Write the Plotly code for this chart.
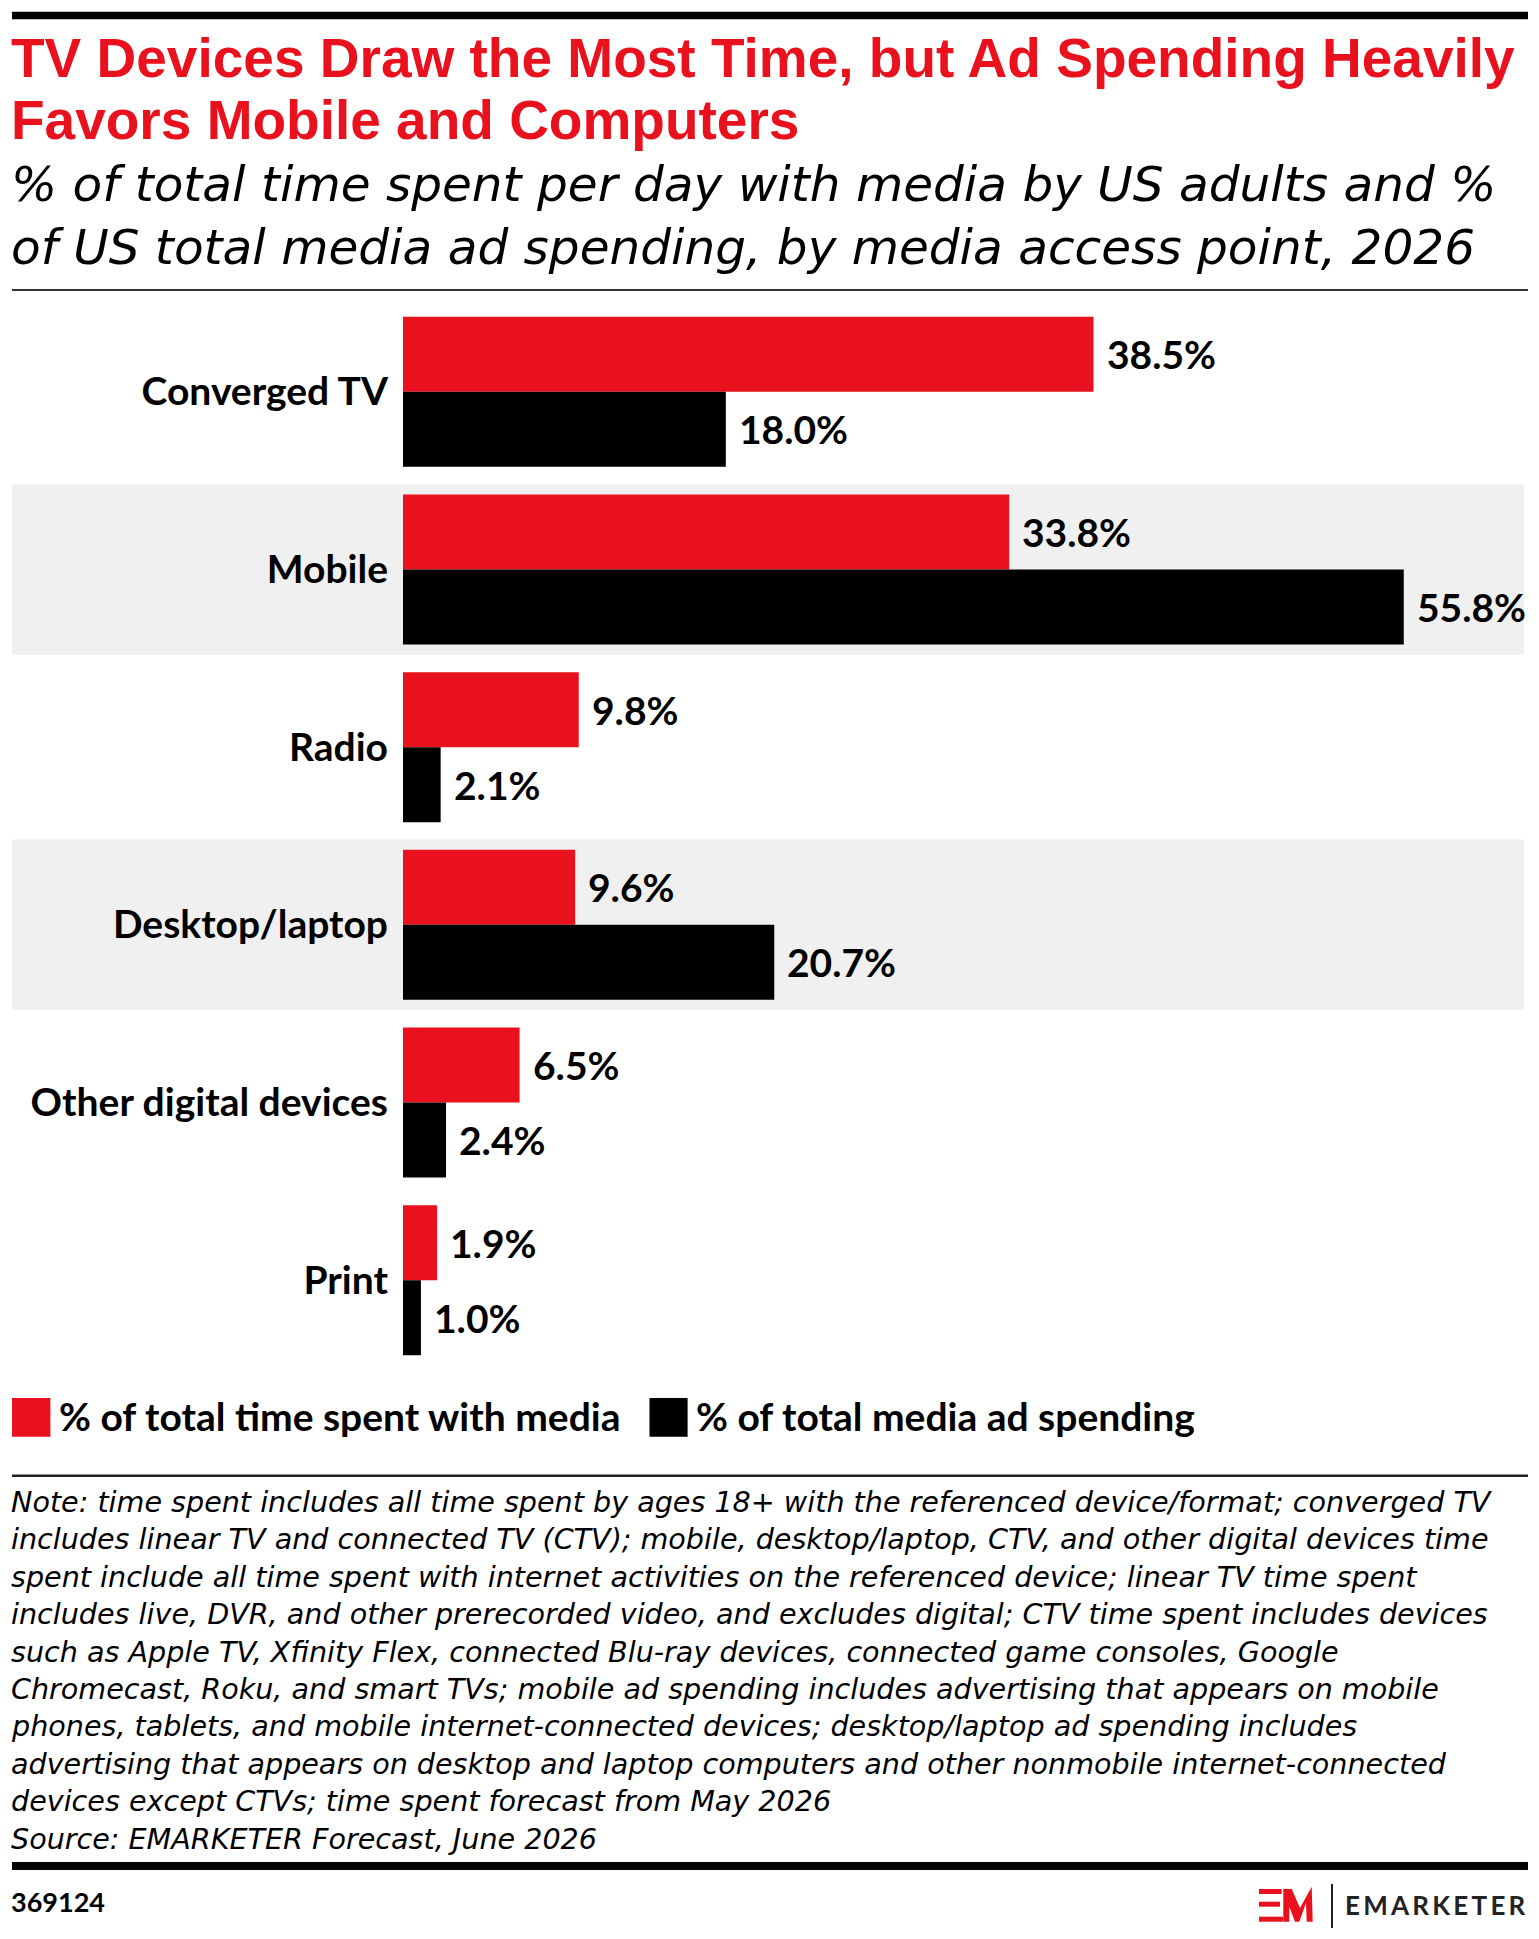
import plotly.graph_objects as go

# ---------------- data ----------------
categories = ["Converged TV", "Mobile", "Radio", "Desktop/laptop",
              "Other digital devices", "Print"]
time_spent = [38.5, 33.8, 9.8, 9.6, 6.5, 1.9]
ad_spending = [18.0, 55.8, 2.1, 20.7, 2.4, 1.0]
series_names = ["% of total time spent with media", "% of total media ad spending"]
shaded_categories = ["Mobile", "Desktop/laptop"]

title_lines = ["TV Devices Draw the Most Time, but Ad Spending Heavily",
               "Favors Mobile and Computers"]
subtitle_lines = ["% of total time spent per day with media by US adults and %",
                  "of US total media ad spending, by media access point, 2026"]
note_lines = [
    "Note: time spent includes all time spent by ages 18+ with the referenced device/format; converged TV",
    "includes linear TV and connected TV (CTV); mobile, desktop/laptop, CTV, and other digital devices time",
    "spent include all time spent with internet activities on the referenced device; linear TV time spent",
    "includes live, DVR, and other prerecorded video, and excludes digital; CTV time spent includes devices",
    "such as Apple TV, Xfinity Flex, connected Blu-ray devices, connected game consoles, Google",
    "Chromecast, Roku, and smart TVs; mobile ad spending includes advertising that appears on mobile",
    "phones, tablets, and mobile internet-connected devices; desktop/laptop ad spending includes",
    "advertising that appears on desktop and laptop computers and other nonmobile internet-connected",
    "devices except CTVs; time spent forecast from May 2026",
    "Source: EMARKETER Forecast, June 2026",
]
chart_id = "369124"
brand = "EMARKETER"

# ---------------- style / layout ----------------
RED = "#e8111d"
BLACK = "#000000"
BAND = "#f0f0f0"
FONT = "Lato"
IFONT = "DejaVu Sans"
TFONT = "Liberation Sans"
DESCENT = {FONT: 0.213, IFONT: 0.236, TFONT: 0.212}

OFF = 8  # page body margin
W, H = 1539 - OFF, 1939 - OFF
L, R, T, B = 403 - OFF, 1524 - OFF, 303 - OFF, 1369 - OFF
PW, PH = R - L, B - T
PX_PER_UNIT = 17.935


def xp(X):
    return (X - OFF - L) / PW


def yp(Y):
    return (B - (Y - OFF)) / PH


fig = go.Figure()
fig.add_trace(go.Bar(y=categories, x=time_spent, orientation="h", name=series_names[0],
                     marker=dict(color=RED, line=dict(width=0))))
fig.add_trace(go.Bar(y=categories, x=ad_spending, orientation="h", name=series_names[1],
                     marker=dict(color=BLACK, line=dict(width=0))))

shapes = []
annotations = []

# shaded category bands
for c in shaded_categories:
    i = categories.index(c)
    shapes.append(dict(type="rect", xref="paper", yref="y", x0=xp(12), x1=1.0,
                       y0=i - 0.48, y1=i + 0.48, fillcolor=BAND, line=dict(width=0),
                       layer="below"))

# value labels
BAR_OFFSET = 37.5
for vals, ys in ((time_spent, BAR_OFFSET), (ad_spending, -BAR_OFFSET)):
    for c, v in zip(categories, vals):
        annotations.append(dict(x=v, y=c, xref="x", yref="y", xanchor="left", yanchor="middle",
                                xshift=11, yshift=ys, showarrow=False,
                                text=f"{v:.1f}%",
                                font=dict(family=FONT, size=39, color=BLACK, weight="bold")))


def add_text(text, X, baseline, size, color=BLACK, bold=False, italic=False, anchor="left",
             family=None, pad=1):
    fam = family or (IFONT if italic else FONT)
    desc = DESCENT[fam]
    annotations.append(dict(
        x=xp(X), y=yp(baseline + desc * size + pad), xref="paper", yref="paper",
        xanchor=anchor, yanchor="bottom", showarrow=False, text=text, borderpad=pad,
        font=dict(family=fam, size=size, color=color,
                  weight="bold" if bold else "normal",
                  style="italic" if italic else "normal")))


def add_rect(X0, Y0, X1, Y1, color):
    shapes.append(dict(type="rect", xref="paper", yref="paper", x0=xp(X0), x1=xp(X1),
                       y0=yp(Y1), y1=yp(Y0), fillcolor=color, line=dict(width=0)))


# header
add_rect(12, 11.7, 1528, 19.3, BLACK)
add_text(title_lines[0], 10, 78, 55, RED, bold=True, family=TFONT, pad=0)
add_text(title_lines[1], 10, 140, 55, RED, bold=True, family=TFONT, pad=0)
add_text(subtitle_lines[0], 9, 202, 48.5, BLACK, italic=True)
add_text(subtitle_lines[1], 9, 265, 48.5, BLACK, italic=True)
add_rect(12, 289, 1528, 291, "#333333")

# legend
add_rect(12, 1398, 50.4, 1436.7, RED)
add_text(series_names[0], 57, 1431.5, 39, BLACK, bold=True)
add_rect(649.5, 1398, 687.6, 1436.7, BLACK)
add_text(series_names[1], 694, 1431.5, 39, BLACK, bold=True)
add_rect(12, 1474.5, 1528, 1477, "#222222")

# notes
for k, line in enumerate(note_lines):
    add_text(line, 9, 1513.3 + k * 37.39, 28.6, BLACK, italic=True)

add_rect(12, 1862, 1528, 1870, BLACK)
add_text(chart_id, 9, 1913, 27, BLACK, bold=True)

# logo
add_rect(1259, 1889, 1281.7, 1894, RED)
add_rect(1259, 1901.7, 1280, 1906.7, RED)
add_rect(1259, 1916.7, 1283, 1921.7, RED)
m_pts = [(1283.3, 1889), (1291.7, 1889), (1300, 1908), (1311.7, 1886.7), (1312.7, 1921.7),
         (1306.7, 1921.7), (1306, 1903), (1299.3, 1921.7), (1295, 1921.7), (1289.3, 1906.7),
         (1289.3, 1921.7), (1283.3, 1921.7)]
path = "M " + " L ".join(f"{xp(x):.5f},{yp(y):.5f}" for x, y in m_pts) + " Z"
shapes.append(dict(type="path", xref="paper", yref="paper", path=path, fillcolor=RED,
                   line=dict(width=0)))
add_rect(1331, 1884, 1333, 1928, "#222222")
add_text("\u2009".join(brand), 1343, 1916, 26, "#222222", bold=True)

fig.update_layout(
    width=W, height=H,
    margin=dict(l=L, r=W - R, t=T, b=H - B, pad=0),
    paper_bgcolor="white", plot_bgcolor="rgba(0,0,0,0)",
    barmode="group", bargap=0.156, bargroupgap=0,
    showlegend=False,
    xaxis=dict(range=[0, PW / PX_PER_UNIT], visible=False, fixedrange=True),
    yaxis=dict(type="category", range=[len(categories) - 0.5, -0.5], showgrid=False,
               zeroline=False, showline=False, ticks="", ticklabelstandoff=14,
               tickfont=dict(family=FONT, size=39, color=BLACK, weight="bold"),
               fixedrange=True),
    shapes=shapes, annotations=annotations,
)

fig.write_html("out.html")
